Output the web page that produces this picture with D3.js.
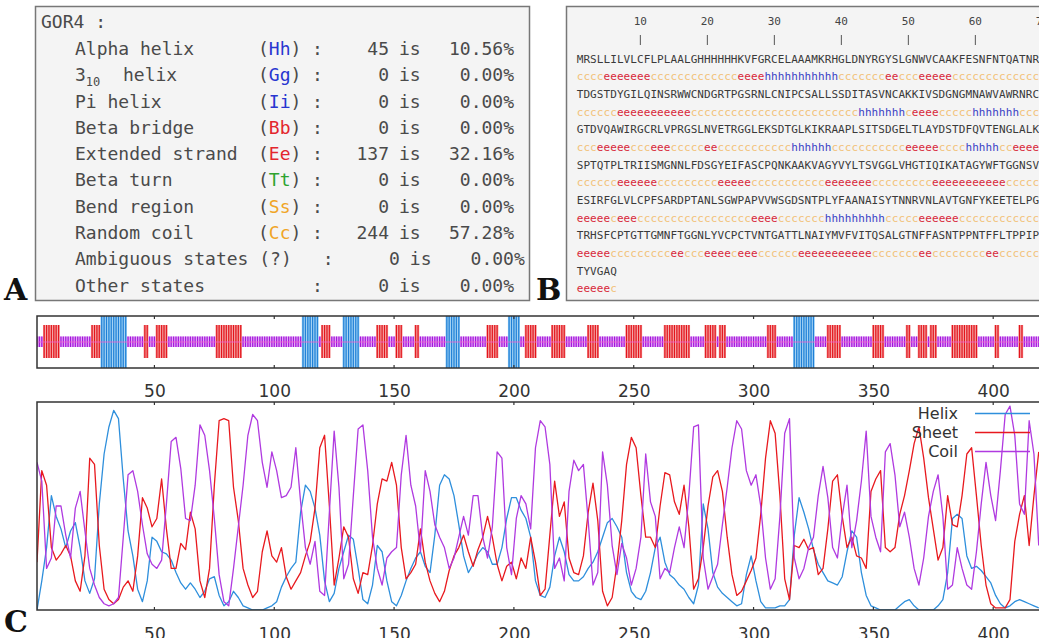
<!DOCTYPE html>
<html>
<head>
<meta charset="utf-8">
<script src="https://cdn.jsdelivr.net/npm/d3@7"></script>
<style>
  body { margin: 0; background: #fff; }
</style>
</head>
<body>
<svg id="fig" width="1039" height="638"></svg>
<script>
// ---- panel A : GOR4 summary ----
var gorNames  = ["Alpha helix", "3_10 helix", "Pi helix", "Beta bridge", "Extended strand",
                 "Beta turn", "Bend region", "Random coil", "Ambiguous states (?)", "Other states"];
var gorCodes  = ["Hh", "Gg", "Ii", "Bb", "Ee", "Tt", "Ss", "Cc", "", ""];
var gorCounts = [45, 0, 0, 0, 137, 0, 0, 244, 0, 0];
var residueTotal = 426;

// ---- panel B : sequence and predicted states (70 per row) ----
var seqRows = [
  "MRSLLILVLCFLPLAALGHHHHHHKVFGRCELAAAMKRHGLDNYRGYSLGNWVCAAKFESNFNTQATNR",
  "TDGSTDYGILQINSRWWCNDGRTPGSRNLCNIPCSALLSSDITASVNCAKKIVSDGNGMNAWVAWRNRC",
  "GTDVQAWIRGCRLVPRGSLNVETRGGLEKSDTGLKIKRAAPLSITSDGELTLAYDSTDFQVTENGLALK",
  "SPTQTPLTRIISMGNNLFDSGYEIFASCPQNKAAKVAGYVYLTSVGGLVHGTIQIKATAGYWFTGGNSV",
  "ESIRFGLVLCPFSARDPTANLSGWPAPVVWSGDSNTPLYFAANAISYTNNRVNLAVTGNFYKEETELPG",
  "TRHSFCPTGTTGMNFTGGNLYVCPCTVNTGATTLNAIYMVFVITQSALGTNFFASNTPPNTFFLTPPIP",
  "TYVGAQ"
];
// runs of predicted state per row: [state, length]
var ssRuns = [
  [["c",4],["e",7],["c",13],["e",4],["h",11],["c",7],["e",2],["c",3],["e",5],["c",14]],
  [["c",6],["e",11],["c",25],["h",7],["c",1],["e",4],["c",5],["h",7],["c",4]],
  [["c",3],["e",5],["c",3],["e",3],["c",5],["e",2],["c",11],["h",6],["c",11],["e",5],["c",4],["h",5],["c",2],["e",5]],
  [["c",6],["e",6],["c",9],["e",5],["c",11],["e",7],["c",9],["e",11],["c",6]],
  [["e",5],["c",1],["e",3],["c",17],["e",4],["c",7],["h",9],["c",5],["e",6],["c",13]],
  [["e",5],["c",9],["e",2],["c",3],["e",4],["c",1],["e",3],["c",6],["e",11],["c",7],["e",2],["c",8],["e",2],["c",7]],
  [["e",5],["c",1]]
];
var rulerTicks = [10, 20, 30, 40, 50, 60, 70];

// ---- panel C : GOR4 probability profiles, read at every 2nd residue (1, 3, 5 ... 419) ----
var sampleStep = 2;
var helixProb = [
  0,0.14,0.3,0.55,0.45,0.39,0.3,0.38,0.42,0.3,
  0.14,0.08,0.15,0.51,0.75,0.88,0.96,0.92,0.63,0.38,
  0.26,0.1,0.04,0.14,0.35,0.33,0.28,0.27,0.24,0.18,
  0.13,0.1,0.13,0.1,0.06,0.09,0.15,0.16,0.07,0.02,
  0.04,0.09,0.06,0.02,0.01,0,0,0,0.01,0.02,
  0.04,0.11,0.16,0.2,0.23,0.47,0.6,0.57,0.49,0.36,
  0.14,0.04,0.08,0.2,0.28,0.36,0.34,0.2,0.05,0.03,
  0.12,0.31,0.28,0.14,0.04,0.02,0.07,0.14,0.2,0.25,
  0.28,0.21,0.18,0.36,0.6,0.65,0.63,0.55,0.41,0.26,
  0.18,0.22,0.27,0.3,0.28,0.22,0.22,0.3,0.44,0.54,
  0.54,
  0.48,0.44,0.35,0.14,0.07,0.06,0.11,0.26,0.35,0.28,
  0.17,0.14,0.14,0.16,0.2,0.23,0.28,0.35,0.42,0.44,
  0.4,0.35,0.18,0.09,0.06,0.05,0.09,0.18,0.3,0.35,
  0.23,0.17,0.15,0.12,0.1,0.06,0.03,0.12,0.51,0.39,
  0.18,0.11,0.08,0.06,0.04,0.02,0.03,0.17,0.26,0.14,
  0.04,0.01,0.01,0.01,0.02,0.02,0.05,0.36,0.54,0.47,
  0.39,0.29,0.22,0.18,0.14,0.13,0.12,0.16,0.28,0.38,
  0.35,0.18,0.07,0.02,0.01,0,0,0,0,0.02,
  0.04,0.05,0.02,0,0,0,0,0.02,0.05,0.18,
  0.44,0.46,0.44,0.26,0.2,0.21,0.19,0.16,0.13,0.07,
  0.03,0.01,0.02,0.04,0.05,0.04,0.03,0.02,0.01];
var sheetProb = [
  0.23,0.67,0.6,0.3,0.24,0.27,0.31,0.26,0.14,0.09,
  0.26,0.73,0.7,0.31,0.1,0.05,0.03,0.05,0.11,0.14,
  0.09,0.26,0.54,0.49,0.4,0.44,0.63,0.39,0.2,0.2,
  0.32,0.29,0.47,0.39,0.14,0.06,0.2,0.6,0.91,0.92,
  0.91,0.59,0.43,0.2,0.12,0.06,0.09,0.28,0.38,0.26,
  0.23,0.3,0.16,0.1,0.14,0.18,0.26,0.33,0.49,0.78,
  0.84,0.5,0.12,0.25,0.4,0.35,0.15,0.08,0.18,0.17,
  0.31,0.51,0.63,0.62,0.71,0.6,0.3,0.15,0.18,0.22,
  0.39,0.23,0.14,0.08,0.04,0.09,0.19,0.26,0.3,0.36,
  0.28,0.21,0.29,0.35,0.45,0.35,0.22,0.14,0.21,0.23,
  0.15,
  0.25,0.2,0.35,0.23,0.07,0.1,0.36,0.62,0.45,0.52,
  0.25,0.18,0.17,0.26,0.47,0.61,0.43,0.09,0.02,0.06,
  0.22,0.43,0.7,0.83,0.78,0.55,0.35,0.35,0.3,0.5,
  0.66,0.65,0.52,0.46,0.6,0.4,0.1,0.15,0.3,0.5,
  0.64,0.67,0.57,0.35,0.17,0.07,0.09,0.14,0.19,0.25,
  0.46,0.73,0.91,0.85,0.55,0.15,0.05,0.31,0.3,0.34,
  0.29,0.3,0.17,0.2,0.39,0.62,0.65,0.45,0.3,0.35,
  0.26,0.25,0.2,0.57,0.63,0.67,0.3,0.28,0.3,0.46,
  0.55,0.67,0.8,0.88,0.73,0.54,0.39,0.24,0.3,0.55,
  0.41,0.4,0.55,0.75,0.78,0.55,0.31,0.12,0.03,0.01,
  0.01,0.01,0.05,0.33,0.46,0.55,0.31,0.55,0.76];
var coilProb = [
  0.71,0.62,0.2,0.25,0.5,0.5,0.36,0.25,0.49,0.57,
  0.38,0.2,0.12,0.06,0.03,0.02,0.03,0.06,0.35,0.65,
  0.67,0.57,0.41,0.27,0.22,0.2,0.24,0.51,0.81,0.83,
  0.68,0.44,0.43,0.6,0.89,0.84,0.67,0.44,0.17,0.04,
  0.02,0.2,0.4,0.6,0.84,0.94,0.91,0.71,0.59,0.76,
  0.67,0.54,0.55,0.59,0.78,0.52,0.3,0.22,0.33,0.09,
  0.07,0.47,0.86,0.59,0.15,0.22,0.55,0.87,0.89,0.67,
  0.35,0.2,0.12,0.25,0.28,0.3,0.65,0.84,0.6,0.5,
  0.28,0.67,0.57,0.41,0.35,0.3,0.2,0.25,0.35,0.45,
  0.36,0.55,0.55,0.35,0.25,0.4,0.76,0.73,0.3,0.17,
  0.44,
  0.55,0.51,0.39,0.78,0.91,0.88,0.7,0.2,0.25,0.14,
  0.57,0.72,0.67,0.7,0.43,0.12,0.18,0.76,0.6,0.31,
  0.17,0.32,0.25,0.12,0.2,0.35,0.75,0.52,0.45,0.15,
  0.2,0.18,0.3,0.4,0.3,0.55,0.88,0.89,0.25,0.1,
  0.16,0.22,0.41,0.59,0.78,0.91,0.87,0.67,0.6,0.65,
  0.5,0.25,0.1,0.15,0.45,0.85,0.92,0.25,0.15,0.2,
  0.3,0.35,0.55,0.69,0.54,0.3,0.25,0.45,0.6,0.3,
  0.43,0.62,0.86,0.45,0.35,0.28,0.76,0.8,0.65,0.4,
  0.47,0.35,0.2,0.12,0.25,0.45,0.57,0.65,0.45,0.1,
  0.12,0.3,0.2,0.12,0.1,0.28,0.51,0.71,0.55,0.43,
  0.67,0.94,0.98,0.84,0.51,0.46,0.91,0.75,0.31];
var axisTicks = [50, 100, 150, 200, 250, 300, 350, 400];

var stateColor = { h: "#3a3fc4", e: "#d8283a", c: "#f2c27a" };
var codeColor = { H: "#2836d0", G: "#2836d0", I: "#2836d0", B: "#e3262d", E: "#e3262d",
                  T: "#2ea32e", S: "#f0a526", C: "#f0a526" };

var svg = d3.select("#fig");
var mono = "'DejaVu Sans Mono', monospace";
var sans = "'DejaVu Sans', sans-serif";

function monoText(sel, size) {
  return sel.style("font-family", mono).style("font-size", size + "px");
}

// panel letters
[["A", 4, 300], ["B", 536, 300], ["C", 4, 632]].forEach(function(p) {
  svg.append("text").attr("x", p[1]).attr("y", p[2]).text(p[0])
    .style("font-family", "'DejaVu Serif', serif").style("font-weight", "bold")
    .style("font-size", "30px").attr("fill", "#111");
});

// ---------- panel A ----------
var pA = svg.append("g");
pA.append("rect").attr("x", 35.5).attr("y", 6.5).attr("width", 494).attr("height", 294)
  .attr("fill", "#f4f4f4").attr("stroke", "#777").attr("stroke-width", 1.5);
monoText(pA.append("text").attr("x", 41).attr("y", 28).text("GOR4 :"), 18).attr("fill", "#4a4a4a");

var fmtPct = d3.format(".2f");
var rowY = d3.scaleLinear().domain([0, 9]).range([55, 291.5]);
var ch = 10.8;
gorNames.forEach(function(name, i) {
  var y = rowY(i);
  var shift = Math.max(0, name.length - 19) * ch;
  var g = pA.append("g").attr("fill", "#4a4a4a");
  if (name.indexOf("3_10") === 0) {
    var t = monoText(g.append("text").attr("x", 75).attr("y", y), 18);
    t.append("tspan").text("3");
    t.append("tspan").attr("dy", 5).style("font-size", "12px").text("10");
    monoText(g.append("text").attr("x", 123).attr("y", y).text(name.slice(5)), 18);
  } else {
    monoText(g.append("text").attr("x", 75).attr("y", y).text(name), 18);
  }
  var code = gorCodes[i];
  if (code) {
    var ct = monoText(g.append("text").attr("x", 258).attr("y", y), 18);
    ct.append("tspan").text("(");
    ct.append("tspan").attr("fill", codeColor[code[0]]).text(code);
    ct.append("tspan").text(")");
  }
  monoText(g.append("text").attr("x", 312 + shift).attr("y", y).text(":"), 18);
  monoText(g.append("text").attr("x", 389 + shift).attr("y", y).attr("text-anchor", "end").text(gorCounts[i]), 18);
  monoText(g.append("text").attr("x", 399 + shift).attr("y", y).text("is"), 18);
  monoText(g.append("text").attr("x", 514 + shift).attr("y", y).attr("text-anchor", "end")
    .text(fmtPct(gorCounts[i] / residueTotal * 100) + "%"), 18);
});

// ---------- panel B ----------
var pB = svg.append("g");
pB.append("rect").attr("x", 566.5).attr("y", 6.5).attr("width", 500).attr("height", 294)
  .attr("fill", "#f4f4f4").attr("stroke", "#777").attr("stroke-width", 1.5);
var pitch = 6.7, seqLeft = 576.7;
var bRow = d3.scaleLinear().domain([0, 13]).range([58.7, 288.3]);
rulerTicks.forEach(function(t) {
  var cx = seqLeft + (t - 0.5) * pitch;
  monoText(pB.append("text").attr("x", cx).attr("y", 25).attr("text-anchor", "middle").text(t), 11)
    .attr("fill", "#444");
  pB.append("line").attr("x1", cx).attr("x2", cx).attr("y1", 35).attr("y2", 45)
    .attr("stroke", "#555").attr("stroke-width", 1);
});
seqRows.forEach(function(s, k) {
  monoText(pB.append("text").attr("x", seqLeft).attr("y", bRow(2 * k) + 4), 11)
    .style("letter-spacing", "0.08px").attr("fill", "#3a3a3a").text(s);
  var t = monoText(pB.append("text").attr("x", seqLeft).attr("y", bRow(2 * k + 1) + 4), 11)
    .style("letter-spacing", "0.08px");
  t.selectAll("tspan").data(ssRuns[k]).enter().append("tspan")
    .attr("fill", function(d) { return stateColor[d[0]]; })
    .text(function(d) { return d[0].repeat(d[1]); });
});

// ---------- panel C ----------
var x = d3.scaleLinear().domain([1, residueTotal]).range([37, 37 + 425 * 2.3965]);

// residue states from the runs
var states = [];
ssRuns.forEach(function(row) { row.forEach(function(r) { for (var j = 0; j < r[1]; j++) states.push(r[0]); }); });

var trackTop = 316, trackBot = 368, trackMid = 342;
svg.append("clipPath").attr("id", "clipTrack").append("rect")
  .attr("x", 37).attr("y", trackTop).attr("width", 1020).attr("height", trackBot - trackTop);
var track = svg.append("g");
track.append("rect").attr("x", 37).attr("y", trackTop).attr("width", 1020).attr("height", trackBot - trackTop)
  .attr("fill", "#fff");
var barSpec = {
  h: { y0: trackTop, y1: trackBot, fill: "#86c4f0", line: "#1f7fd6" },
  e: { y0: 325, y1: 358, fill: "#f28c8c", line: "#e3141c" },
  c: { y0: 336.5, y1: 347, fill: "#d993f2", line: "#a414dc" }
};
var bw = x(2) - x(1);
var bars = track.append("g").attr("clip-path", "url(#clipTrack)");
bars.selectAll("rect.res").data(states).enter().append("rect").attr("class", "res")
  .attr("x", function(d, i) { return x(i) - bw / 2; })
  .attr("y", function(d) { return barSpec[d].y0; })
  .attr("width", bw)
  .attr("height", function(d) { return barSpec[d].y1 - barSpec[d].y0; })
  .attr("fill", function(d) { return barSpec[d].fill; });
bars.selectAll("line.res").data(states).enter().append("line").attr("class", "res")
  .attr("x1", function(d, i) { return x(i); }).attr("x2", function(d, i) { return x(i); })
  .attr("y1", function(d) { return barSpec[d].y0; })
  .attr("y2", function(d) { return barSpec[d].y1; })
  .attr("stroke", function(d) { return barSpec[d].line; }).attr("stroke-width", 1.1);
bars.append("line").attr("x1", 37).attr("x2", 1039).attr("y1", trackMid).attr("y2", trackMid)
  .attr("stroke", "#f060d0").attr("stroke-width", 0.8);
track.append("rect").attr("x", 37).attr("y", trackTop).attr("width", 1020).attr("height", trackBot - trackTop)
  .attr("fill", "none").attr("stroke", "#333").attr("stroke-width", 1.5);

function frameTicks(g, top, bot) {
  axisTicks.forEach(function(t) {
    g.append("line").attr("x1", x(t)).attr("x2", x(t)).attr("y1", top).attr("y2", top + 3)
      .attr("stroke", "#333").attr("stroke-width", 1.2);
    g.append("line").attr("x1", x(t)).attr("x2", x(t)).attr("y1", bot).attr("y2", bot - 3)
      .attr("stroke", "#333").attr("stroke-width", 1.2);
  });
}
frameTicks(track, trackTop, trackBot);

var axisTrack = d3.axisBottom(x).tickValues(axisTicks).tickSize(0).tickPadding(10);
svg.append("g").attr("transform", "translate(0," + 375 + ")").call(axisTrack)
  .call(function(g) { g.select(".domain").remove(); })
  .selectAll("text").style("font-size", "17px").style("font-family", sans).attr("fill", "#333");

// probability lines
var plotTop = 402, plotBot = 610;
var y = d3.scaleLinear().domain([0, 1]).range([plotBot, plotTop]);
var plot = svg.append("g");
plot.append("rect").attr("x", 37).attr("y", plotTop).attr("width", 1020).attr("height", plotBot - plotTop)
  .attr("fill", "#fff");
svg.append("clipPath").attr("id", "clipC").append("rect")
  .attr("x", 37).attr("y", plotTop).attr("width", 1020).attr("height", plotBot - plotTop);

var series = [
  { name: "Helix", values: helixProb, color: "#2e8fdc" },
  { name: "Sheet", values: sheetProb, color: "#e8191e" },
  { name: "Coil",  values: coilProb,  color: "#b03ae0" }
];
var line = d3.line()
  .x(function(d, i) { return x(1 + i * sampleStep); })
  .y(function(d) { return y(d); });
plot.append("g").attr("clip-path", "url(#clipC)").selectAll("path").data(series).enter().append("path")
  .attr("d", function(s) { return line(s.values); })
  .attr("fill", "none").attr("stroke", function(s) { return s.color; }).attr("stroke-width", 1.3)
  .attr("stroke-linejoin", "round");

plot.append("rect").attr("x", 37).attr("y", plotTop).attr("width", 1020).attr("height", plotBot - plotTop)
  .attr("fill", "none").attr("stroke", "#333").attr("stroke-width", 1.5);
frameTicks(plot, plotTop, plotBot);

var axisPlot = d3.axisBottom(x).tickValues(axisTicks).tickSize(0).tickPadding(10);
svg.append("g").attr("transform", "translate(0," + 618 + ")").call(axisPlot)
  .call(function(g) { g.select(".domain").remove(); })
  .selectAll("text").style("font-size", "17px").style("font-family", sans).attr("fill", "#333");

// legend
var leg = plot.append("g");
series.forEach(function(s, i) {
  var ly = 413.5 + i * 19;
  leg.append("text").attr("x", 958).attr("y", ly + 5.5).attr("text-anchor", "end").text(s.name)
    .style("font-family", sans).style("font-size", "16px").attr("fill", "#333");
  leg.append("line").attr("x1", 975).attr("x2", 1030).attr("y1", ly).attr("y2", ly)
    .attr("stroke", s.color).attr("stroke-width", 1.4);
});
</script>
</body>
</html>
